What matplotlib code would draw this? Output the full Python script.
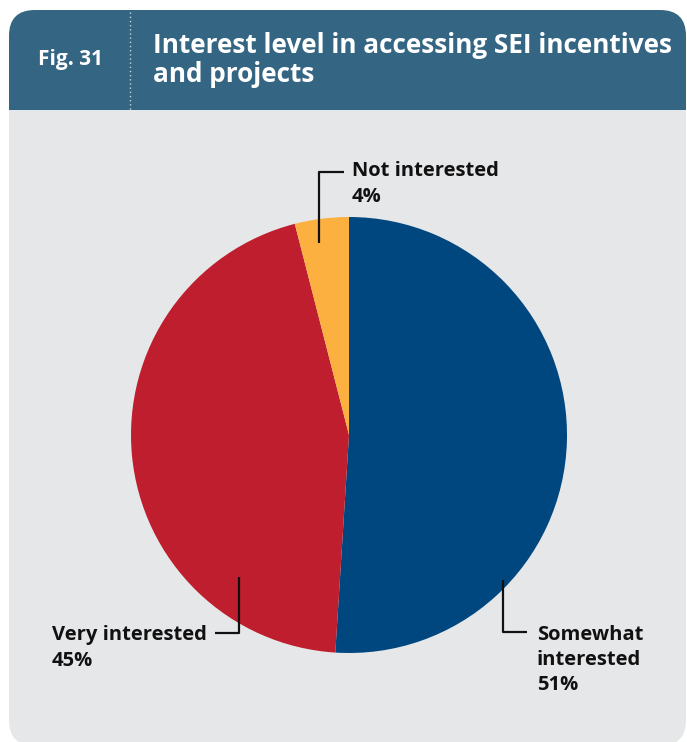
import matplotlib.pyplot as plt
from matplotlib.patches import FancyBboxPatch, Rectangle

plt.rcParams['font.family'] = ['Open Sans', 'DejaVu Sans']

labels = ['Somewhat\ninterested', 'Very interested', 'Not interested']
shares = [51, 45, 4]
colors = ['#00467f', '#be1e2d', '#fbb040']

fig_label = 'Fig. 31'
title = 'Interest level in accessing SEI incentives\nand projects'

W, H = 687, 742
fig = plt.figure(figsize=(W / 100, H / 100), dpi=100)


def pixel_axes():
    a = fig.add_axes([0, 0, 1, 1])
    a.set_xlim(0, W)
    a.set_ylim(H, 0)
    a.axis('off')
    a.patch.set_alpha(0)
    return a


# background panel, drawn in pixel coordinates
bg = pixel_axes()

header_c = '#346583'
body_c = '#e6e7e9'
bg.add_patch(FancyBboxPatch((9, 10), 677, 736, boxstyle='round,pad=0,rounding_size=26',
                            fc=body_c, ec='none'))
bg.add_patch(FancyBboxPatch((9, 10), 677, 140, boxstyle='round,pad=0,rounding_size=26',
                            fc=header_c, ec='none'))
bg.add_patch(Rectangle((9, 110), 677, 50, fc=body_c, ec='none'))
bg.plot([130, 130], [12, 110], color='#c8d3dc', lw=1, ls=(0, (1, 2)))

bg.text(38, 60, fig_label, color='white', fontsize=15, fontweight='bold', va='center')
bg.text(153, 60, title, color='white', fontsize=18.8, fontweight='bold', va='center',
        linespacing=1.08)

# pie, centred at (349, 435) with radius 218 px
cx, cy, r = 349, 435, 218
ax = fig.add_axes([(cx - r) / W, (H - cy - r) / H, 2 * r / W, 2 * r / H])
ax.pie(shares, colors=colors, startangle=90, counterclock=False,
       wedgeprops=dict(linewidth=0))
ax.set_xlim(-1, 1)
ax.set_ylim(-1, 1)
ax.set_aspect('auto')
ax.axis('off')

# leader lines and labels sit on top of the pie
top = pixel_axes()
lab_kw = dict(fontsize=14.5, fontweight='bold', color='#111111', linespacing=1.36)
line_kw = dict(color='#111111', lw=1.6, solid_capstyle='butt')

top.plot([319, 319, 344], [243, 172, 172], **line_kw)
top.text(352, 184, f'{labels[2]}\n{shares[2]}%', va='center', **lab_kw)

top.plot([239, 239, 215], [577, 633, 633], **line_kw)
top.text(52, 648, f'{labels[1]}\n{shares[1]}%', va='center', **lab_kw)

top.plot([503, 503, 527], [580, 632, 632], **line_kw)
top.text(537, 660, f'{labels[0]}\n{shares[0]}%', va='center', **lab_kw)

fig.savefig('out.png', dpi=100, facecolor='white')
